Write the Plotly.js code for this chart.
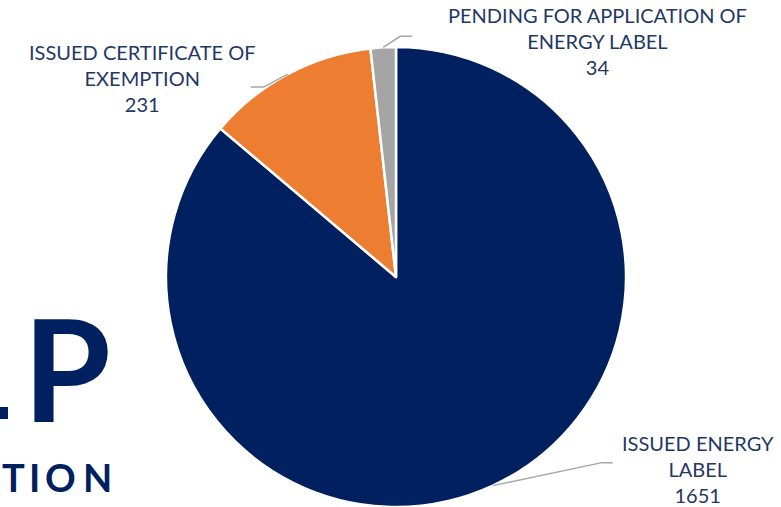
<!DOCTYPE html>
<html>
<head>
<meta charset="utf-8">
<script src="https://cdn.plot.ly/plotly-3.0.1.min.js"></script>
<style>html,body{margin:0;padding:0;background:#fff;}#chart{width:781px;height:507px;}</style>
</head>
<body>
<div id="chart"></div>
<script>
const categories = ["ISSUED ENERGY<br>LABEL", "ISSUED CERTIFICATE OF<br>EXEMPTION", "PENDING FOR APPLICATION OF<br>ENERGY LABEL"];
const values = [1651, 231, 34];
const colors = ["#002060", "#ED7D31", "#A5A5A5"];

const W = 781, H = 507;
const cx = 396, cy = 277, R = 230;
const px = x => x / W;
const py = y => 1 - y / H;

const total = values.reduce((a, b) => a + b, 0);
// label placement (layout only)
const labelPos = [
  {x: 698, y: 469, dx1: 109, dy1: -23, dx2: 11},
  {x: 142, y: 78, dx1: -24, dy1: 13, dx2: -13},
  {x: 597, y: 41, dx1: 17, dy1: -11, dx2: 12}
];

const annotations = [];
const shapes = [];
let cum = 0;
values.forEach((v, i) => {
  const mid = (cum + v / 2) / total * 2 * Math.PI;
  cum += v;
  const sx = cx + R * Math.sin(mid), sy = cy - R * Math.cos(mid);
  const p = labelPos[i];
  const ex = sx + p.dx1, ey = sy + p.dy1;
  const fx = ex + p.dx2;
  shapes.push({type: 'path', xref: 'paper', yref: 'paper',
    path: `M ${px(sx)} ${py(sy)} L ${px(ex)} ${py(ey)} L ${px(fx)} ${py(ey)}`,
    line: {color: '#A6A6A6', width: 1.5}});
  annotations.push({xref: 'paper', yref: 'paper', x: px(p.x), y: py(p.y),
    xanchor: 'center', yanchor: 'middle', showarrow: false, align: 'center',
    text: categories[i] + '<br>' + v,
    font: {family: 'Lato, "Open Sans", sans-serif', size: 20, weight: 400, color: '#1F3864'}});
});

// background slide text fragments
annotations.push({xref: 'paper', yref: 'paper', x: px(113), y: py(367), xanchor: 'right', yanchor: 'middle',
  showarrow: false, text: '<b>P</b>', font: {family: 'Lato, sans-serif', size: 142, color: '#002060'}});
shapes.push({type: 'rect', xref: 'paper', yref: 'paper', x0: px(0), x1: px(8), y0: py(419), y1: py(407),
  fillcolor: '#002060', line: {width: 0}});
const bgLetters = ['T', 'I', 'O', 'N'];
const bgLetterX = [0, 34, 61, 97.5];
bgLetters.forEach((ch, i) => {
  annotations.push({xref: 'paper', yref: 'paper', x: px(bgLetterX[i]), y: py(477),
    xanchor: i === 0 ? 'left' : 'center', yanchor: 'middle',
    showarrow: false, text: '<b>' + ch + '</b>', font: {family: 'Lato, sans-serif', size: 38, color: '#002060'}});
});

const data = [{
  type: 'pie',
  labels: categories,
  values: values,
  sort: false,
  direction: 'clockwise',
  rotation: 0,
  marker: {colors: colors, line: {color: '#FFFFFF', width: 2.5}},
  textinfo: 'none',
  hoverinfo: 'label+value',
  domain: {x: [px(cx - R), px(cx + R)], y: [py(cy + R), py(cy - R)]},
  showlegend: false
}];

const layout = {
  width: W, height: H,
  margin: {l: 0, r: 0, t: 0, b: 0},
  paper_bgcolor: '#FFFFFF',
  plot_bgcolor: '#FFFFFF',
  showlegend: false,
  annotations: annotations,
  shapes: shapes
};

Plotly.newPlot('chart', data, layout, {displayModeBar: false, staticPlot: true});
</script>
</body>
</html>
